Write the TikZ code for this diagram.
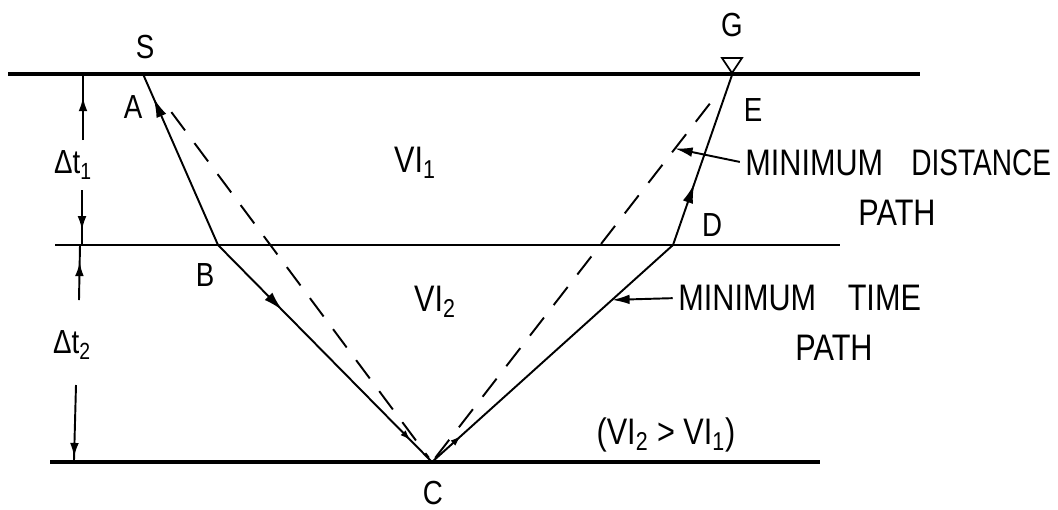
\documentclass[tikz,border=0pt]{standalone}
\usepackage{fontspec}
\setmainfont[FakeStretch=0.83]{Liberation Sans}
\newfontfamily\narrowfont[FakeStretch=0.76]{Liberation Sans}
\usetikzlibrary{arrows.meta, decorations.markings, calc}
\tikzset{
  bed/.style={line width=2.6pt},
  layer/.style={line width=1.3pt},
  ray/.style={line width=1.1pt},
  straightray/.style={ray, dash pattern=on 13pt off 9pt},
  letter/.style={font=\fontsize{19}{22}\selectfont, inner sep=0pt},
  caption/.style={font=\fontsize{21}{26}\selectfont, inner sep=0pt},
  tipat/.style={postaction={decorate, decoration={markings,
      mark=at position #1 with {\arrow{Latex[length=11pt,width=6pt]}}}}},
  smalltipat/.style={postaction={decorate, decoration={markings,
      mark=at position #1 with {\arrow{Latex[length=6pt,width=4pt]}}}}},
  dimat/.style={line width=1.1pt, postaction={decorate, decoration={markings,
      mark=at position #1 with {\arrow{Latex[length=8pt,width=5pt]}}}}},
  leader/.style={line width=1.1pt, -{Latex[length=10pt,width=5.5pt]}, shorten <=3pt},
}
\begin{document}
\begin{tikzpicture}[x=2cm, y=-2cm]
  \useasboundingbox (0,0) rectangle (10.58,5.09);
  % interfaces
  \draw[bed] (0.08,0.74) -- (9.20,0.74);
  \draw[layer] (0.55,2.45) -- (8.40,2.45);
  \draw[bed] (0.50,4.62) -- (8.20,4.62);
  % ray points
  \coordinate (A) at (1.43,0.74);
  \coordinate (B) at (2.18,2.45);
  \coordinate (C) at (4.32,4.62);
  \coordinate (D) at (6.73,2.45);
  \coordinate (E) at (7.32,0.75);
  % minimum time path
  \draw[ray, tipat=0.86] (B) -- (A);
  \draw[ray, tipat=0.3, smalltipat=0.9] (B) -- (C);
  \draw[ray, smalltipat=0.12] (C) -- (D);
  \draw[ray, tipat=0.36] (D) -- (E);
  % minimum distance path
  \draw[straightray, shorten <=0.95cm, shorten >=3pt] (A) -- (C);
  \draw[straightray, shorten <=3pt, shorten >=0.45cm] (C) -- (E);
  % geophone
  \draw[line width=1pt, shift={(E)}] (-0.1,-0.17) -- (0.1,-0.17) -- (0,-0.02) -- cycle;
  % point labels
  \node[letter] (lS) at (1.45,0.47) {S};
  \node[letter] (lA) at (1.33,1.07) {A};
  \node[letter] (lB) at (2.05,2.75) {B};
  \node[letter] (lC) at (4.33,4.93) {C};
  \node[letter] (lD) at (7.12,2.25) {D};
  \node[letter] (lE) at (7.53,1.10) {E};
  \node[letter] (lG) at (7.32,0.25) {G};
  % layer velocities
  \node[caption] (v1) at (4.15,1.63) {VI\textsubscript{1}};
  \node[caption] (v2) at (4.35,3.02) {VI\textsubscript{2}};
  \node[caption] (vcmp) at (6.66,4.35) {(VI\textsubscript{2} > VI\textsubscript{1})};
  % thicknesses
  \node[letter] (dt1) at (0.73,1.65) {Δt\textsubscript{1}};
  \node[letter] (dt2) at (0.72,3.45) {Δt\textsubscript{2}};
  \coordinate (d1a) at (0.83,0.74);
  \coordinate (d1b) at (0.83,1.40);
  \coordinate (d1c) at (0.82,1.90);
  \coordinate (d1d) at (0.82,2.45);
  \coordinate (d2a) at (0.80,2.45);
  \coordinate (d2b) at (0.79,3.00);
  \coordinate (d2c) at (0.76,3.85);
  \coordinate (d2d) at (0.74,4.60);
  \draw[dimat=0.65] (d1b) -- (d1a);
  \draw[dimat=0.73] (d1c) -- (d1d);
  \draw[dimat=0.69] (d2b) -- (d2a);
  \draw[dimat=0.96] (d2c) -- (d2d);
  % path captions
  \node[caption, anchor=west] (mdist) at (7.45,1.63) {MINIMUM\hspace{16pt}{\narrowfont DISTANCE}};
  \node[caption] (mdistp) at (8.97,2.13) {PATH};
  \node[caption, anchor=west] (mtime) at (6.78,2.98) {MINIMUM\hspace{18pt}TIME};
  \node[caption] (mtimep) at (8.34,3.48) {PATH};
  \coordinate (dpt) at ($(C)!0.81!(E)$);
  \coordinate (tpt) at ($(C)!0.747!(D)$);
  \draw[leader] (mdist.west) -- (dpt);
  \draw[leader] (mtime.west) -- (tpt);
\end{tikzpicture}
\end{document}
